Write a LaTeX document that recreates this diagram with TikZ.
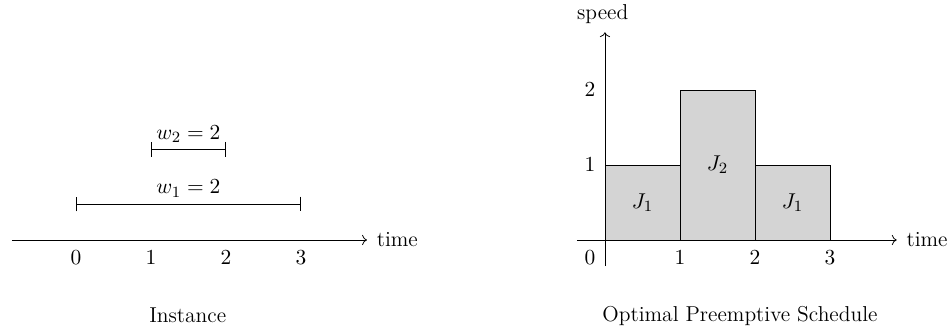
\documentclass[tikz,border=0pt]{standalone}
\usepackage{amsmath}
\usepackage{tikz}
\usetikzlibrary{arrows.meta,positioning}

\begin{document}
\begin{tikzpicture}[x=1.346cm, y=1.346cm,
  font=\fontsize{11}{13.5}\selectfont,
  axis/.style={->},
  job/.style={{Bar[width=7.5pt]}-{Bar[width=7.5pt]}},
  bar/.style={draw, fill=black!17},
  lbl/.style={inner sep=2pt}]
  \useasboundingbox (-1.013,-1.213) rectangle (11.667,3.2);

  % instance
  \coordinate (ta) at (-0.853,0);
  \coordinate (tb) at (3.88,0);
  \draw[axis] (ta) -- (tb) node[right, xshift=1.5pt] (tlab) {time};
  \foreach \i in {0,...,3}
    \node[lbl] (tk\i) at (\i,-0.24) {$\i$};
  \coordinate (a1) at (0,0.48);
  \coordinate (b1) at (3,0.48);
  \coordinate (a2) at (1,1.21);
  \coordinate (b2) at (2,1.21);
  \draw[job] (a1) -- node[above] (w1) {$w_1 = 2$} (b1);
  \draw[job] (a2) -- node[above] (w2) {$w_2 = 2$} (b2);
  \node (inst) at (1.49,-1.01) {Instance};

  % schedule
  \begin{scope}[shift={(7.053,0)}]
    \draw[bar] (0,0) rectangle node (j1a) {$J_1$} (1,1);
    \draw[bar] (1,0) rectangle node (j2) {$J_2$} (2,2);
    \draw[bar] (2,0) rectangle node (j1b) {$J_1$} (3,1);
    \coordinate (xa) at (-0.373,0);
    \coordinate (xb) at (3.89,0);
    \coordinate (ya) at (0,-0.35);
    \coordinate (yb) at (0,2.77);
    \draw[axis] (xa) -- (xb) node[right, xshift=1.5pt] (slab) {time};
    \draw[axis] (ya) -- (yb);
    \node (spd) at (-0.03,3.01) {speed};
    \node[lbl] (s0) at (-0.2,-0.24) {$0$};
    \foreach \i in {1,2,3}
      \node[lbl] (sx\i) at (\i,-0.24) {$\i$};
    \foreach \i in {1,2}
      \node[lbl] (sy\i) at (-0.2,\i) {$\i$};
    \node (sched) at (1.8,-1.01) {Optimal Preemptive Schedule};
  \end{scope}
\end{tikzpicture}
\end{document}
